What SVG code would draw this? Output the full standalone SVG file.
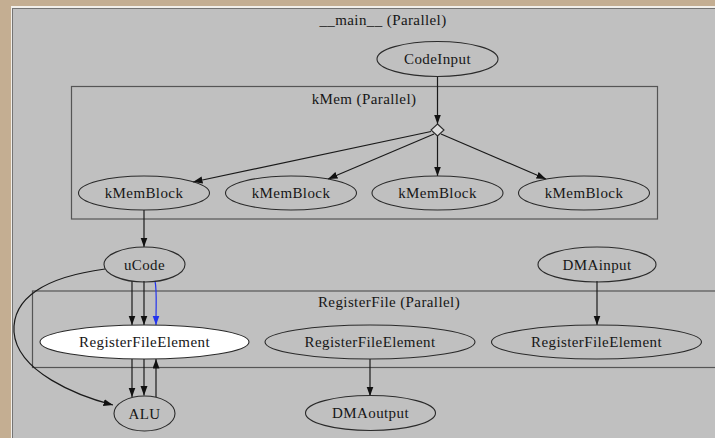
<svg xmlns="http://www.w3.org/2000/svg" width="715" height="438" viewBox="0 0 715 438" font-family="'Liberation Serif', 'DejaVu Serif', serif">
<style>
text{font-family:'Liberation Serif','DejaVu Serif',serif;font-size:15px;letter-spacing:0.4px;fill:#161616;text-anchor:middle}
.n{fill:none;stroke:#2a2a2a;stroke-width:1.1}
.c{fill:none;stroke:#555;stroke-width:1.2}
.e{fill:none;stroke:#1a1a1a;stroke-width:1.2}
</style>
<defs>
<marker id="ah" markerWidth="10" markerHeight="8" refX="9.5" refY="3.5" orient="auto" markerUnits="userSpaceOnUse">
<path d="M0,0 L9.5,3.5 L0,7 z" fill="#111"/>
</marker>
<marker id="ahb" markerWidth="10" markerHeight="8" refX="9.5" refY="3.5" orient="auto" markerUnits="userSpaceOnUse">
<path d="M0,0 L9.5,3.5 L0,7 z" fill="#2233ee"/>
</marker>
</defs>
<rect width="715" height="438" fill="#c4ae92"/>
<rect x="11" y="6" width="704" height="432" fill="#f2efea"/>
<rect x="12" y="8" width="703" height="430" fill="#747474"/>
<rect x="13" y="9" width="702" height="429" fill="#c0c0c0"/>
<g id="cluster-main"><text x="383" y="25">__main__ (Parallel)</text></g>
<g id="cluster-kMem"><rect class="c" x="71.5" y="86.5" width="586" height="132.5"/><text x="364" y="104">kMem (Parallel)</text></g>
<g id="cluster-RegisterFile"><rect class="c" x="32.5" y="291" width="720" height="76.5"/><text x="389" y="307">RegisterFile (Parallel)</text></g>
<g id="connectors">
<line class="e" x1="437.5" y1="77" x2="437.5" y2="124" marker-end="url(#ah)"/>
<line class="e" x1="431" y1="131.5" x2="193" y2="182" marker-end="url(#ah)"/>
<line class="e" x1="434" y1="134" x2="328" y2="179" marker-end="url(#ah)"/>
<line class="e" x1="437.5" y1="136" x2="437.5" y2="176" marker-end="url(#ah)"/>
<line class="e" x1="441" y1="134" x2="546" y2="179" marker-end="url(#ah)"/>
<line class="e" x1="144" y1="210" x2="144" y2="247" marker-end="url(#ah)"/>
<path class="e" d="M105,269 C45,277 12,298 14,332 C17,372 78,396 113,405" marker-end="url(#ah)"/>
<line class="e" x1="132" y1="281" x2="132" y2="325" marker-end="url(#ah)"/>
<line class="e" x1="144" y1="281" x2="144" y2="325" marker-end="url(#ah)"/>
<path d="M155,281 C157,290 156,300 156,325" fill="none" stroke="#2233ee" stroke-width="1.2" marker-end="url(#ahb)"/>
<line class="e" x1="132" y1="359" x2="132" y2="397" marker-end="url(#ah)"/>
<line class="e" x1="144" y1="359" x2="144" y2="395.5" marker-end="url(#ah)"/>
<line class="e" x1="156" y1="397" x2="156" y2="359" marker-end="url(#ah)"/>
<line class="e" x1="597" y1="281" x2="597" y2="325" marker-end="url(#ah)"/>
<line class="e" x1="370" y1="359" x2="370" y2="396" marker-end="url(#ah)"/>
</g>
<g id="CodeInput"><ellipse class="n" cx="437.5" cy="59" rx="60.5" ry="17.5"/><text x="437.5" y="64">CodeInput</text></g>
<g id="kMem-split"><polygon points="437.5,124 444,130 437.5,136 431,130" fill="#dcdcdc" stroke="#2a2a2a" stroke-width="1.1"/></g>
<g id="kMemBlock1"><ellipse class="n" cx="144" cy="193" rx="65.5" ry="17"/><text x="144" y="198">kMemBlock</text></g>
<g id="kMemBlock2"><ellipse class="n" cx="291" cy="193" rx="65.5" ry="17"/><text x="291" y="198">kMemBlock</text></g>
<g id="kMemBlock3"><ellipse class="n" cx="437.5" cy="193" rx="65.5" ry="17"/><text x="437.5" y="198">kMemBlock</text></g>
<g id="kMemBlock4"><ellipse class="n" cx="584" cy="193" rx="65.5" ry="17"/><text x="584" y="198">kMemBlock</text></g>
<g id="uCode"><ellipse class="n" cx="144.5" cy="264.5" rx="40.5" ry="17.5"/><text x="144.5" y="270">uCode</text></g>
<g id="DMAinput"><ellipse class="n" cx="597" cy="264.5" rx="59" ry="17.5"/><text x="597" y="270">DMAinput</text></g>
<g id="RegisterFileElement1"><ellipse cx="144.5" cy="342" rx="104.5" ry="17" fill="#ffffff" stroke="#2a2a2a" stroke-width="1.1"/><text x="144.5" y="347">RegisterFileElement</text></g>
<g id="RegisterFileElement2"><ellipse class="n" cx="370" cy="342" rx="105" ry="17"/><text x="370" y="347">RegisterFileElement</text></g>
<g id="RegisterFileElement3"><ellipse class="n" cx="596.5" cy="342" rx="105" ry="17"/><text x="596.5" y="347">RegisterFileElement</text></g>
<g id="ALU"><ellipse class="n" cx="144.5" cy="413.5" rx="30.5" ry="17.5"/><text x="144.5" y="419">ALU</text></g>
<g id="DMAoutput"><ellipse class="n" cx="370.5" cy="413" rx="65" ry="17.5"/><text x="370.5" y="418">DMAoutput</text></g>
</svg>
